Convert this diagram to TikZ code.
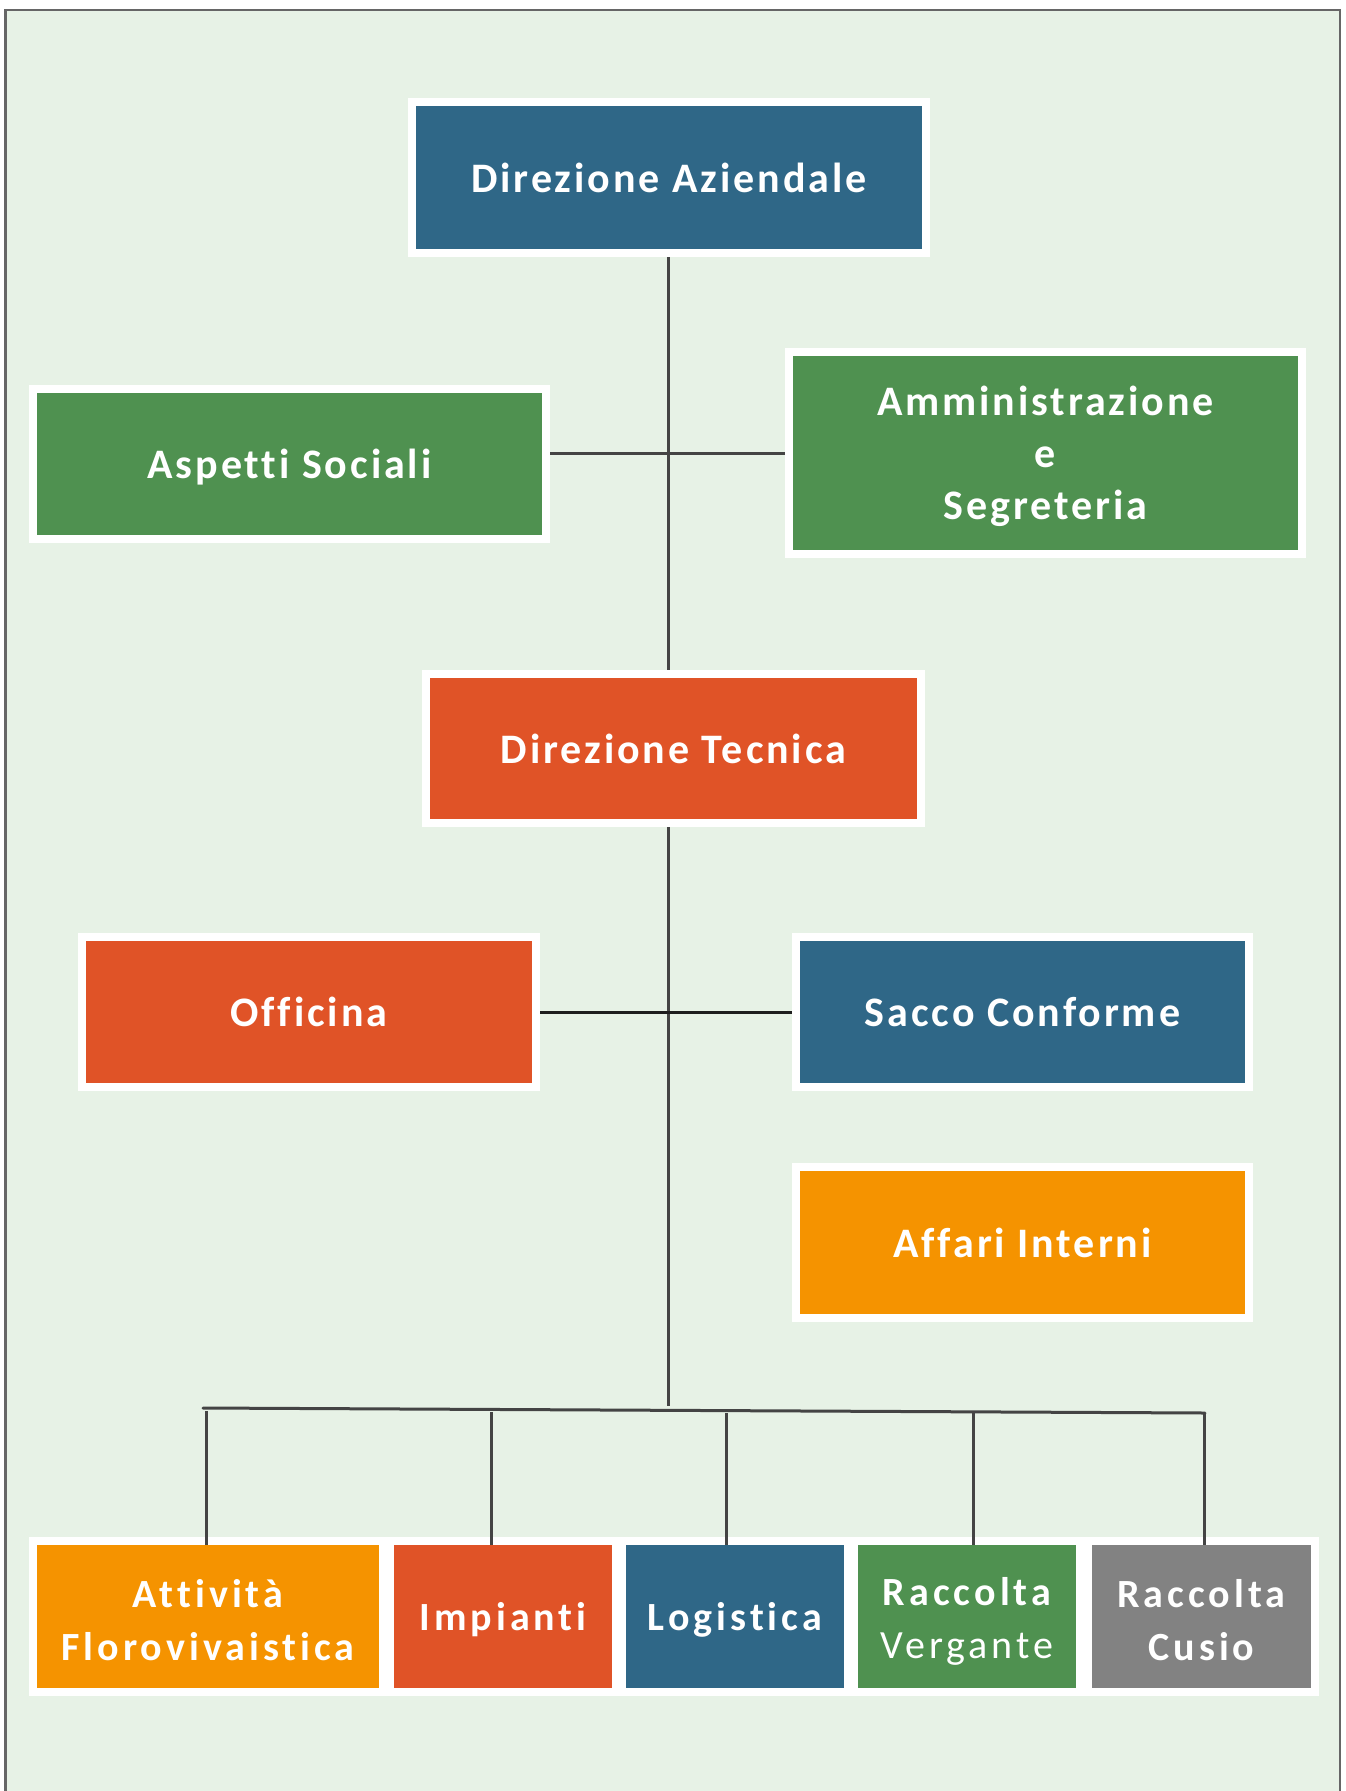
\documentclass[tikz,border=0pt]{standalone}
\usepackage{fontspec}
\setmainfont{Carlito}
\newfontfamily\boxfont[LetterSpace=7,Ligatures={NoCommon}]{Carlito}
\newfontfamily\lowfont[LetterSpace=10,Ligatures={NoCommon}]{Carlito}
\definecolor{bg}{HTML}{E7F2E6}
\definecolor{frameC}{HTML}{666666}
\definecolor{bluC}{HTML}{2F6787}
\definecolor{grnC}{HTML}{4F9150}
\definecolor{redC}{HTML}{E05327}
\definecolor{orgC}{HTML}{F59300}
\definecolor{gryC}{HTML}{828282}
\definecolor{lineC}{HTML}{444444}
\definecolor{darkline}{HTML}{1E1E1E}
\tikzset{
  orgbox/.style={rectangle, text=white, align=center, inner sep=0pt,
    font=\boxfont\bfseries\fontsize{42}{52}\selectfont,
    draw=white, line width=8pt, outer sep=4pt},
  toptext/.style={text=white, align=center, inner sep=0pt,
    font=\boxfont\bfseries\fontsize{42}{52}\selectfont},
  lowbox/.style={rectangle, inner sep=0pt, minimum height=143pt, outer sep=0pt},
  lowtext/.style={text=white, align=center, inner sep=0pt,
    font=\lowfont\bfseries\fontsize{40}{53}\selectfont},
  conn/.style={draw=lineC, line width=3pt},
}
\begin{document}
\begin{tikzpicture}[x=1pt,y=-1pt]
\useasboundingbox (0,0) rectangle (1346,1791);
\fill[white] (0,0) rectangle (1346,1791);
\draw[frameC, line width=2.2pt, fill=bg] (5.5,10) rectangle (1340,1830);

% top level
\node[orgbox, fill=bluC, minimum width=514pt, minimum height=151pt] (da) at (669,177.5) {Direzione Aziendale};
\node[orgbox, fill=grnC, minimum width=513pt, minimum height=150pt] (as) at (289.5,464) {};
\node[toptext] (astext) at (289.5,467.5) {Aspetti Sociali};
\node[orgbox, fill=grnC, minimum width=513pt, minimum height=202pt] (am) at (1045.5,453) {};
\node[toptext] (amtext) at (1045.5,456) {Amministrazione\\e\\Segreteria};
\node[orgbox, fill=redC, minimum width=495pt, minimum height=149pt] (dt) at (673.5,748.5) {Direzione Tecnica};
\node[orgbox, fill=redC, minimum width=454pt, minimum height=150pt] (of) at (309,1012) {Officina};
\node[orgbox, fill=bluC, minimum width=453pt, minimum height=150pt] (sc) at (1022.5,1012) {Sacco Conforme};
\node[orgbox, fill=orgC, minimum width=453pt, minimum height=151pt] (ai) at (1022.5,1242.5) {Affari Interni};

% bottom strip
\fill[white] (29,1537) rectangle (1319,1696);
\node[lowbox, fill=orgC, minimum width=342pt] (b1) at (208,1616.5) {};
\node[lowbox, fill=redC, minimum width=218pt] (b2) at (503,1616.5) {};
\node[lowbox, fill=bluC, minimum width=218pt] (b3) at (735,1616.5) {};
\node[lowbox, fill=grnC, minimum width=218pt] (b4) at (967,1616.5) {};
\node[lowbox, fill=gryC, minimum width=219pt] (b5) at (1201.5,1616.5) {};
\node[lowtext] (b1t) at (208,1620) {Attività\\Florovivaistica};
\node[lowtext] (b2t) at (503,1620) {Impianti};
\node[lowtext] (b3t) at (735,1620) {Logistica};
\node[lowtext] (b4t) at (967,1621) {Raccolta\\\mdseries Vergante};
\node[lowtext] (b5t) at (1201.5,1620) {Raccolta\\Cusio};

% connectors
\coordinate (busC) at (668,1406);
\coordinate (busL) at (203,1408);
\coordinate (busR) at (1205,1413);
\coordinate (s1) at (206,1411);
\coordinate (s2) at (491,1412);
\coordinate (s3) at (726,1413);
\coordinate (s4) at (973,1413);
\coordinate (s5) at (1204,1414);

\draw[conn] (da.south -| busC) -- (dt.north -| busC);
\draw[conn] (as.east |- am.west) -- (am.west);
\draw[conn] (dt.south -| busC) -- (busC);
\draw[draw=darkline, line width=3pt] (of.east) -- (sc.west);
\draw[conn, line cap=round] (busL) -- (busR);
\draw[conn] (s1) -- (s1 |- b1.north);
\draw[conn] (s2) -- (s2 |- b2.north);
\draw[conn] (s3) -- (s3 |- b3.north);
\draw[conn] (s4) -- (s4 |- b4.north);
\draw[conn] (s5) -- (s5 |- b5.north);
\end{tikzpicture}
\end{document}
